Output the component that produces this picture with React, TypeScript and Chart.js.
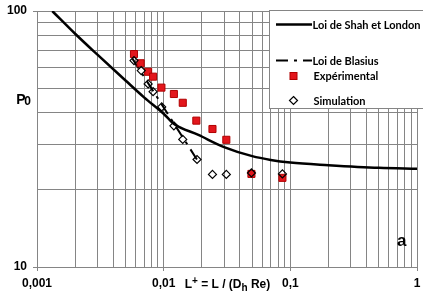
import React, { useEffect, useRef } from 'react';
import { Chart, registerables } from 'chart.js';

Chart.register(...registerables);

// Shah & London curve
const shahX = [0.00132, 0.002, 0.003, 0.005, 0.007, 0.01, 0.012, 0.0188, 0.03, 0.05, 0.07, 0.1, 0.2, 0.5, 1];
const shahY = [100, 81.5, 67.5, 53.5, 46, 39.7, 36.3, 32.8, 29.4, 27.1, 26.2, 25.6, 25.0, 24.4, 24.2];

// Blasius dashed line
const blasiusX = [0.00565, 0.01, 0.0184];
const blasiusY = [65.3, 42.0, 26.2];

// Experimental (red squares)
const expX = [0.00583, 0.00658, 0.00754, 0.00825, 0.0096, 0.01204, 0.01415, 0.01811, 0.02428, 0.03124, 0.0493, 0.0866];
const expY = [67.9, 62.5, 57.9, 55.4, 50.2, 47.4, 43.8, 37.3, 34.6, 31.4, 23.1, 22.3];

// Simulation (diamonds)
const simX = [0.00583, 0.00665, 0.00754, 0.00825, 0.00965, 0.01204, 0.01415, 0.01834, 0.02428, 0.03124, 0.0493, 0.0866];
const simY = [64.0, 58.5, 51.9, 48.4, 42.2, 35.6, 31.5, 26.3, 23.0, 23.0, 23.3, 23.1];

// Tick labels
const xMajorTicks = [0.001, 0.01, 0.1, 1];
const xMajorLabels = ['0,001', '0,01', '0,1', '1'];
const yMajorTicks = [10, 100];
const yMajorLabels = ['10', '100'];

const legendLabels = ['Loi de Shah et London', 'Loi de Blasius', 'Expérimental', 'Simulation'];
const xTitle = ['L', '+', ' = L / (D', 'h', ' Re)'];
const yTitle = ['P', '0'];
const panelLetter = 'a';

const GRID = '#858585';
const RED = '#e3161c';
const FONT = '"Liberation Sans", Arial, sans-serif';

function decadeGrid(minExp: number, maxExp: number): number[] {
  const out: number[] = [];
  for (let e = minExp; e < maxExp; e++) {
    for (let m = 1; m <= 9; m++) out.push(Number((m * Math.pow(10, e)).toPrecision(6)));
  }
  out.push(Math.pow(10, maxExp));
  return out;
}

function findLabel(v: number, vals: number[], labels: string[]): string {
  for (let i = 0; i < vals.length; i++) {
    if (Math.abs(v - vals[i]) / vals[i] < 1e-6) return labels[i];
  }
  return '';
}

const pts = (xs: number[], ys: number[]) => xs.map((x, i) => ({ x, y: ys[i] }));

const overlayPlugin = {
  id: 'overlay',
  afterDraw(chart: any) {
    const ctx = chart.ctx as CanvasRenderingContext2D;
    const area = chart.chartArea;
    const xs = chart.scales.x;
    ctx.save();

    // Legend box
    const lx = area.right - 147.5;
    const ly = area.top - 0.5;
    ctx.fillStyle = '#fff';
    ctx.fillRect(lx, ly, 160, 98);
    ctx.strokeStyle = GRID;
    ctx.lineWidth = 1;
    ctx.strokeRect(lx, ly, 160, 98);

    const sx0 = lx + 6.5;
    const sx1 = lx + 42.5;
    // Shah sample
    ctx.strokeStyle = '#000';
    ctx.lineWidth = 2.5;
    ctx.beginPath();
    ctx.moveTo(sx0, ly + 14);
    ctx.lineTo(sx1, ly + 14);
    ctx.stroke();
    // Blasius sample
    ctx.lineWidth = 2;
    ctx.setLineDash([12, 6, 3, 6]);
    ctx.beginPath();
    ctx.moveTo(sx0, ly + 50);
    ctx.lineTo(sx1, ly + 50);
    ctx.stroke();
    ctx.setLineDash([]);
    // Experimental sample
    const mx = lx + 24;
    ctx.fillStyle = RED;
    ctx.fillRect(mx - 3.5, ly + 62, 7, 7);
    ctx.strokeStyle = '#b00000';
    ctx.lineWidth = 1;
    ctx.strokeRect(mx - 3.5, ly + 62, 7, 7);
    // Simulation sample
    ctx.strokeStyle = '#000';
    ctx.lineWidth = 1.2;
    ctx.beginPath();
    ctx.moveTo(mx, ly + 86);
    ctx.lineTo(mx + 4, ly + 90);
    ctx.lineTo(mx, ly + 94);
    ctx.lineTo(mx - 4, ly + 90);
    ctx.closePath();
    ctx.stroke();

    ctx.fillStyle = '#000';
    ctx.font = 'bold 11px Lato';
    ctx.textBaseline = 'middle';
    ctx.textAlign = 'left';
    ctx.fillText(legendLabels[0], lx + 43, ly + 14.5);
    ctx.fillText(legendLabels[1], lx + 43, ly + 50.5);
    ctx.fillText(legendLabels[2], lx + 44, ly + 66);
    ctx.fillText(legendLabels[3], lx + 44, ly + 90.5);

    // X axis title placed between tick labels
    ctx.textBaseline = 'alphabetic';
    let tx = xs.getPixelForValue(0.01) + 21;
    const by = area.bottom + 21;
    ctx.font = `bold 12px ${FONT}`;
    ctx.fillText(xTitle[0], tx, by);
    tx += ctx.measureText(xTitle[0]).width;
    ctx.font = `bold 10px ${FONT}`;
    ctx.fillText(xTitle[1], tx, by - 4);
    tx += ctx.measureText(xTitle[1]).width;
    ctx.font = `bold 12px ${FONT}`;
    ctx.fillText(xTitle[2], tx, by);
    tx += ctx.measureText(xTitle[2]).width;
    ctx.font = `bold 10px ${FONT}`;
    ctx.fillText(xTitle[3], tx, by + 3);
    tx += ctx.measureText(xTitle[3]).width;
    ctx.font = `bold 12px ${FONT}`;
    ctx.fillText(xTitle[4], tx, by);

    // Y axis title P0
    ctx.font = `bold 14px ${FONT}`;
    ctx.fillText(yTitle[0], 16.3, 104.3);
    ctx.font = `bold 12px ${FONT}`;
    ctx.fillText(yTitle[1], 24.3, 105.3);

    // Panel letter
    ctx.font = `bold 17px ${FONT}`;
    ctx.fillText(panelLetter, area.right - 20, 246.3);

    ctx.restore();
  },
};

export default function App() {
  const ref = useRef<HTMLCanvasElement>(null);

  useEffect(() => {
    document.body.style.margin = '0';
    const xGrid = decadeGrid(-3, 0);
    const yGrid = decadeGrid(1, 2);
    const tickFont = { family: FONT, size: 12, weight: 'bold' as const };

    const chart = new Chart(ref.current as HTMLCanvasElement, {
      type: 'line',
      data: {
        datasets: [
          {
            label: legendLabels[0],
            data: pts(shahX, shahY),
            borderColor: '#000',
            borderWidth: 2.5,
            pointRadius: 0,
            cubicInterpolationMode: 'monotone',
            order: 3,
          },
          {
            label: legendLabels[1],
            data: pts(blasiusX, blasiusY),
            borderColor: '#000',
            borderWidth: 2,
            borderDash: [12, 6, 3, 6],
            pointRadius: 0,
            order: 2,
          },
          {
            label: legendLabels[2],
            data: pts(expX, expY),
            showLine: false,
            pointStyle: 'rect',
            pointRadius: 5,
            backgroundColor: RED,
            borderColor: '#b00000',
            borderWidth: 1,
            order: 1,
          },
          {
            label: legendLabels[3],
            data: pts(simX, simY),
            showLine: false,
            pointStyle: 'rectRot',
            pointRadius: 4,
            backgroundColor: 'rgba(255,255,255,0)',
            borderColor: '#000',
            borderWidth: 1.2,
            order: 0,
          },
        ],
      },
      options: {
        responsive: false,
        animation: false,
        devicePixelRatio: 1,
        layout: { padding: { top: 11, right: 2, left: 0, bottom: 0 } },
        plugins: { legend: { display: false }, tooltip: { enabled: false } },
        scales: {
          x: {
            type: 'logarithmic',
            min: 0.001,
            max: 1,
            afterBuildTicks: (s: any) => {
              s.ticks = xGrid.map((v) => ({ value: v }));
            },
            afterFit: (s: any) => {
              s.height = 27;
              s.paddingLeft = 0;
              s.paddingRight = 0;
            },
            ticks: {
              autoSkip: false,
              maxRotation: 0,
              minRotation: 0,
              padding: 5,
              color: '#000',
              font: tickFont,
              callback: (v: any) => findLabel(Number(v), xMajorTicks, xMajorLabels),
            },
            grid: {
              color: GRID,
              lineWidth: 1,
              tickLength: 4,
              tickColor: (c: any) =>
                c.tick && findLabel(c.tick.value, xMajorTicks, xMajorLabels) ? GRID : 'rgba(0,0,0,0)',
            },
            border: { color: GRID },
          },
          y: {
            type: 'logarithmic',
            min: 10,
            max: 100,
            afterBuildTicks: (s: any) => {
              s.ticks = yGrid.map((v) => ({ value: v }));
            },
            afterFit: (s: any) => {
              s.width = 37;
              s.paddingTop = 0;
              s.paddingBottom = 0;
            },
            ticks: {
              autoSkip: false,
              padding: 6,
              color: '#000',
              font: tickFont,
              callback: (v: any) => findLabel(Number(v), yMajorTicks, yMajorLabels),
            },
            grid: {
              color: GRID,
              lineWidth: 1,
              tickLength: 4,
              tickColor: (c: any) =>
                c.tick && findLabel(c.tick.value, yMajorTicks, yMajorLabels) ? GRID : 'rgba(0,0,0,0)',
            },
            border: { color: GRID },
          },
        },
      },
      plugins: [overlayPlugin],
    } as any);

    return () => chart.destroy();
  }, []);

  return (
    <div style={{ width: 423, height: 294 }}>
      <canvas ref={ref} width={423} height={294} style={{ display: 'block' }} />
    </div>
  );
}
